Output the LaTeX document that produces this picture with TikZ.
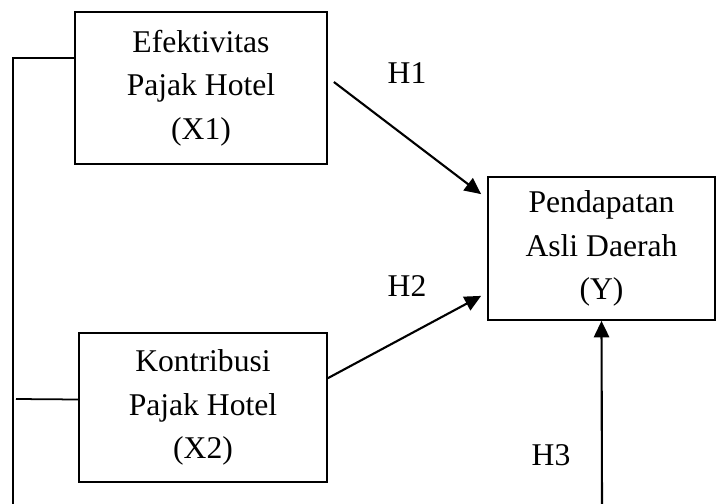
\documentclass[tikz,border=0pt]{standalone}
\usepackage{fontspec}
\setmainfont{Liberation Serif}
\usetikzlibrary{arrows.meta,positioning}

\begin{document}
\begin{tikzpicture}[
        x=0.03cm, y=-0.03cm,
        box/.style={rectangle, draw, line width=1.5pt, inner sep=0pt, text centered, align=center, font=\fontsize{27}{37}\selectfont},
        lbl/.style={font=\fontsize{27}{37}\selectfont, inner sep=0pt},
        arrow/.style={-{Triangle[length=14pt,width=13pt]}, line width=1.8pt},
        line/.style={line width=1.5pt}
    ]
        \useasboundingbox (0,0) rectangle (719,504);

        % Efektivitas
        \node[box, minimum width=7.56cm, minimum height=4.56cm] (x1) at (201,88) {Efektivitas\\Pajak Hotel\\(X1)};

        % Kontribusi
        \node[box, minimum width=7.44cm, minimum height=4.47cm] (x2) at (203,407.5) {Kontribusi\\Pajak Hotel\\(X2)};

        % Pendapatan Asli Daerah
        \node[box, minimum width=6.81cm, minimum height=4.29cm] (y) at (601.5,248.5) {Pendapatan\\Asli Daerah\\(Y)};

        % Hypotheses
        \node[lbl] (h1) at (407,73) {H1};
        \node[lbl] (h2) at (407,286) {H2};
        \node[lbl] (h3) at (551,455) {H3};

        % Free ends at the bottom and left
        \coordinate (loopend) at (13,504);
        \coordinate (stubend) at (16,399);
        \coordinate (h3start) at (602,504);

        % Connections
        \draw[arrow] ([xshift=0.18cm,yshift=0.18cm]x1.east) -- ([xshift=-0.18cm,yshift=-0.54cm]y.north west);
        \draw[arrow] ([yshift=0.88cm]x2.east) -- ([xshift=-0.18cm,yshift=0.75cm]y.south west);
        \draw[arrow] (h3start) -- (y.south);
        \draw[line] ([yshift=0.9cm]x1.west) -| (loopend);
        \draw[line] ([yshift=0.24cm]x2.west) -- (stubend);

    \end{tikzpicture}
\end{document}
